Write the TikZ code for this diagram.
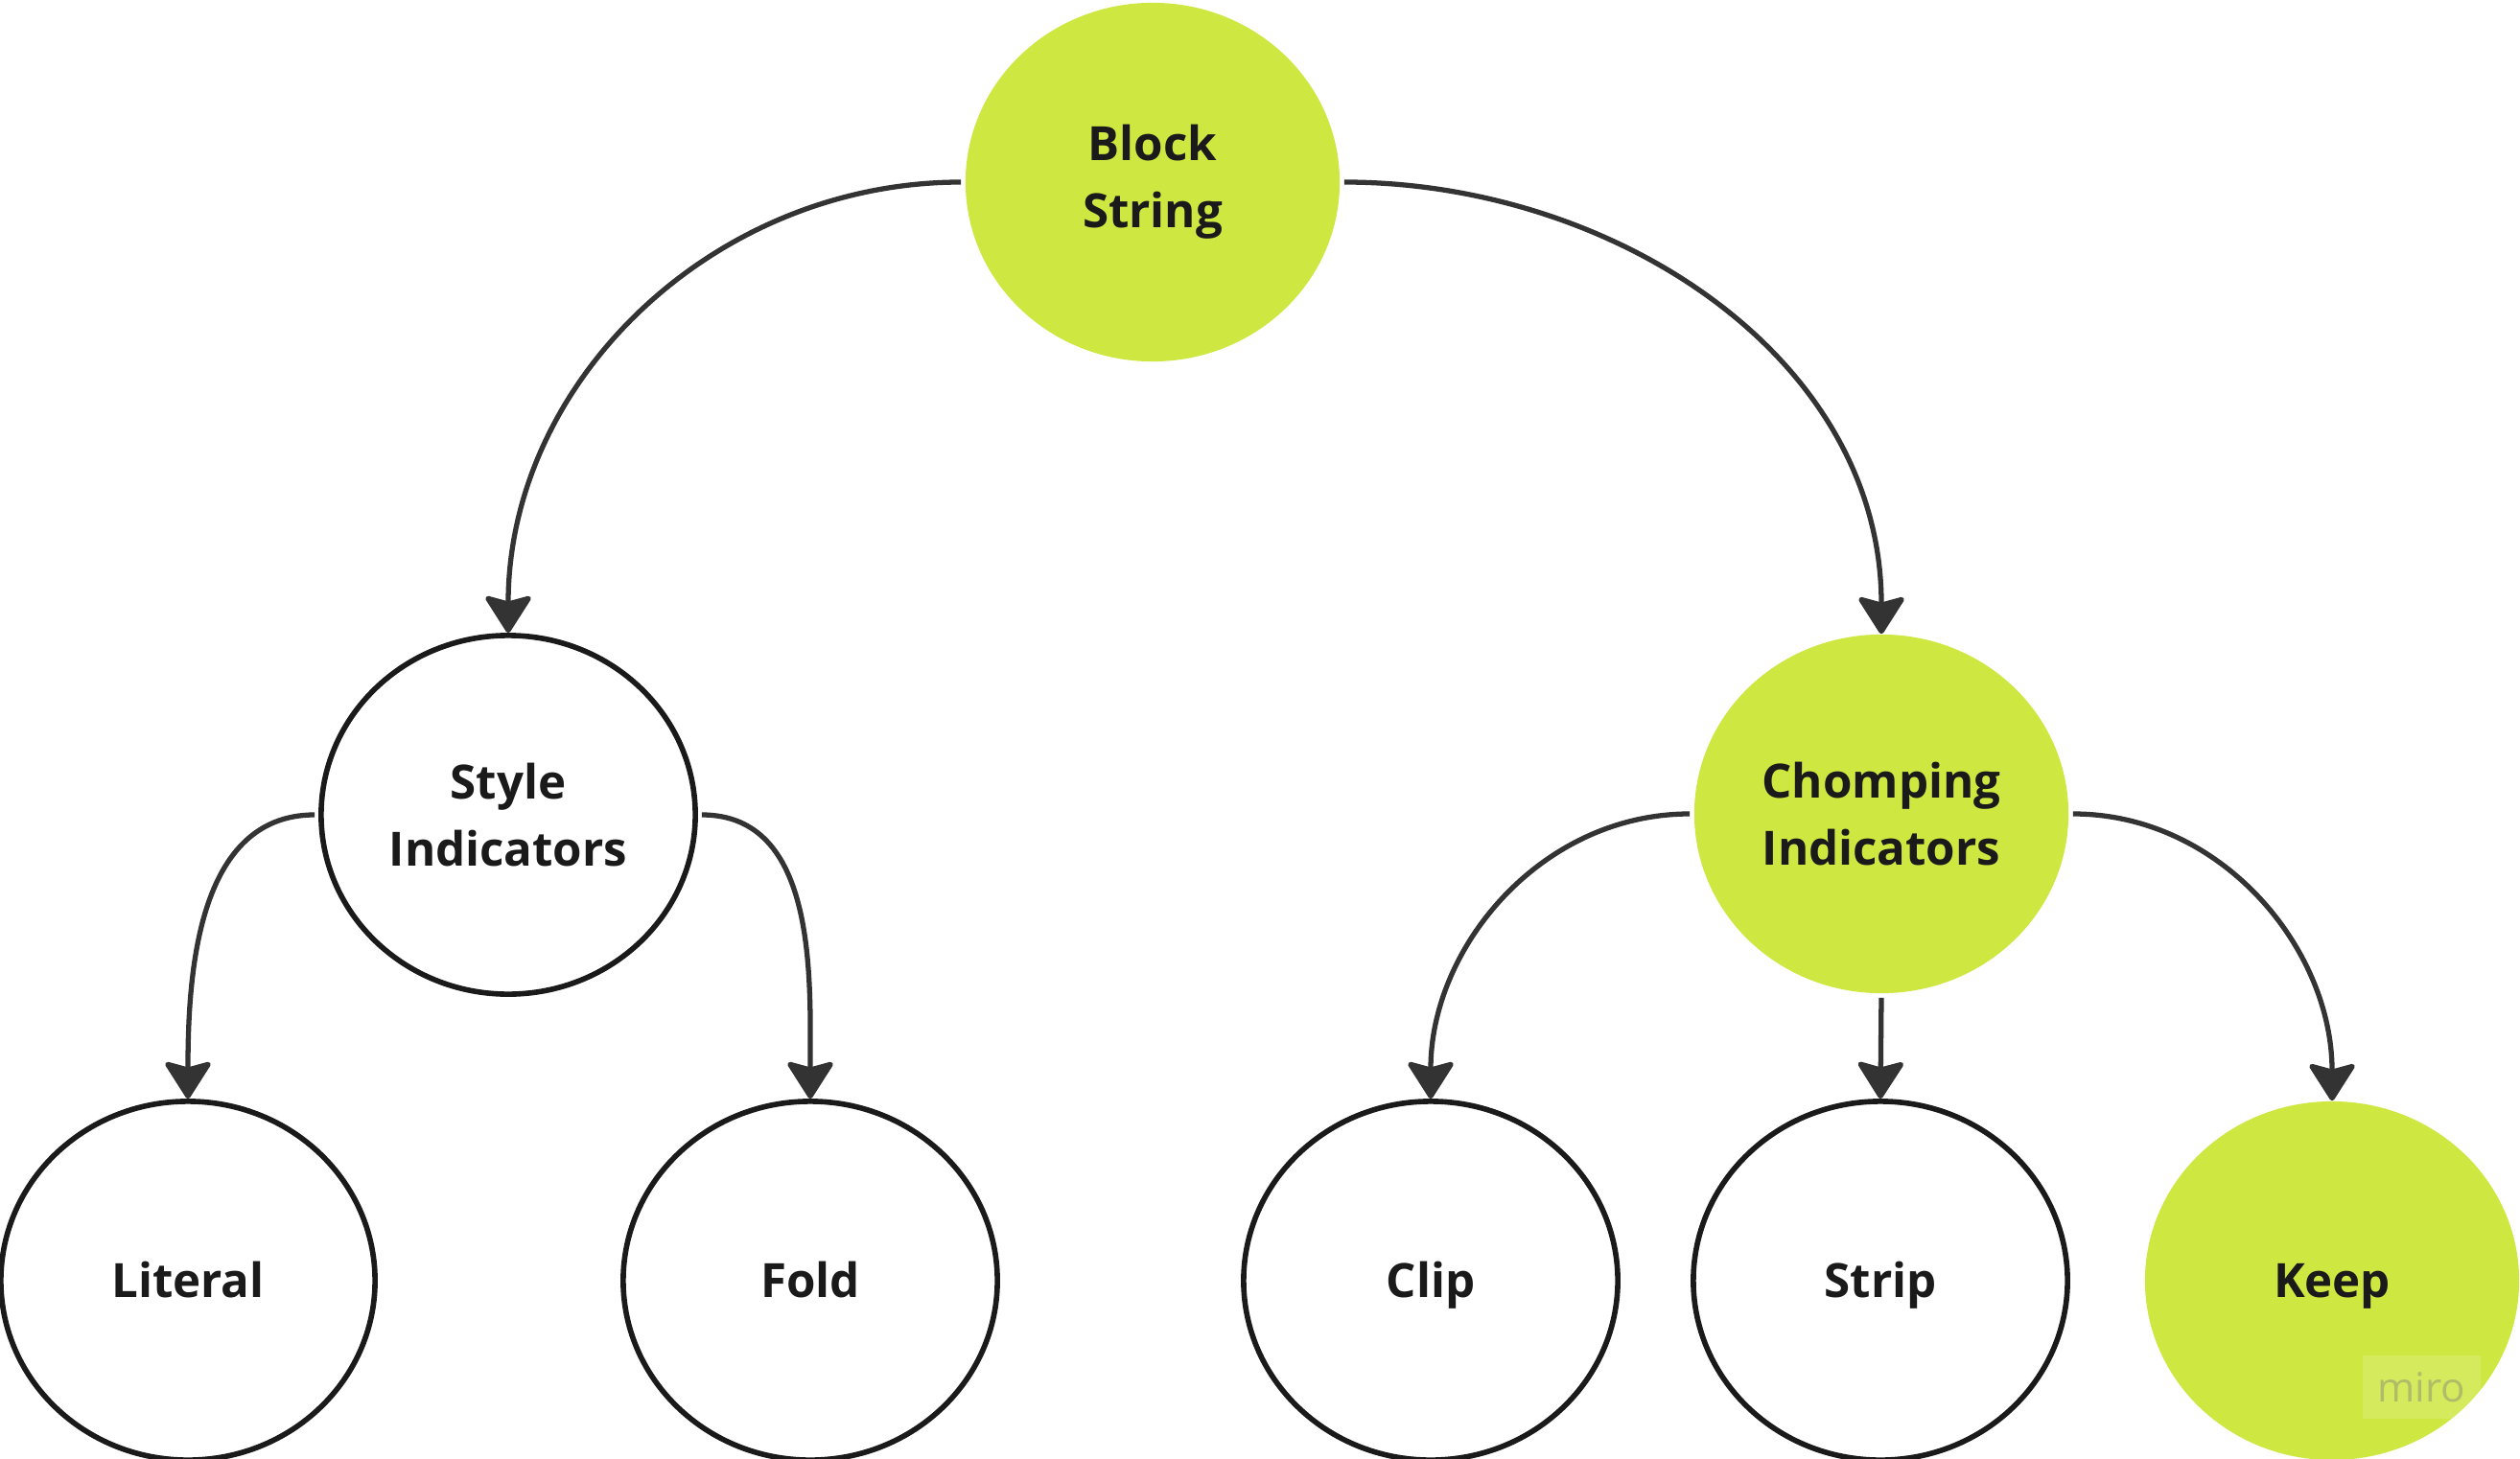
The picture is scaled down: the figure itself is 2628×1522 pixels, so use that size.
\documentclass[tikz,border=0pt]{standalone}
\usepackage{fontspec}
\setmainfont{Open Sans}
\usetikzlibrary{shapes.geometric,arrows.meta}
\definecolor{lime}{HTML}{CEE741}
\definecolor{ink}{HTML}{1A1A1A}
\definecolor{wire}{HTML}{333333}
\definecolor{wmtext}{HTML}{B2BC68}

\begin{document}
\begin{tikzpicture}[x=0.01cm, y=-0.01cm,
    bubble/.style={ellipse, minimum width=3.9cm, minimum height=3.74cm, inner sep=0pt,
        align=center, text=ink, font=\fontsize{14}{20}\selectfont\bfseries},
    plain/.style={bubble, draw=ink, line width=1.6pt, fill=white},
    lit/.style={bubble, fill=lime},
    link/.style={draw=wire, line width=1.5pt, shorten <=0.04cm,
        -{Stealth[length=0.42cm, width=0.53cm, inset=0.07cm, round]}}]
    \useasboundingbox (0,0) rectangle (2628,1522);

    % Top and middle nodes
    \node[lit] (block) at (1202,190) {Block\\String};
    \node[plain] (style) at (530,850) {Style\\Indicators};
    \node[lit] (chomp) at (1962,849) {Chomping\\Indicators};

    % Bottom row
    \foreach \name/\x/\kind/\txt in {literal/196/plain/Literal, fold/845/plain/Fold,
        clip/1492/plain/Clip, strip/1961/plain/Strip, keep/2432/lit/Keep} {
        \node[\kind] (\name) at (\x,1336) {\smash{\txt}\vphantom{L}};
    }

    % Connectors
    \draw[link] (block.west) to[out=180, in=90] (style.north);
    \draw[link] (block.east) to[out=0, in=90] (chomp.north);
    \draw[link] (style.west) to[out=180, in=90] (literal.north);
    \draw[link] (style.east) to[out=0, in=90] (fold.north);
    \draw[link] (chomp.west) to[out=180, in=90] (clip.north);
    \draw[link] (chomp.south) -- (strip.north);
    \draw[link] (chomp.east) to[out=0, in=90] (keep.north);

    % Watermark
    \node[fill=white, fill opacity=0.15, text opacity=1, text=wmtext, inner sep=0pt,
        minimum width=1.23cm, minimum height=0.65cm, font=\fontsize{12}{13}\selectfont]
        (miro) at (2525,1447) {miro};
\end{tikzpicture}
\end{document}
